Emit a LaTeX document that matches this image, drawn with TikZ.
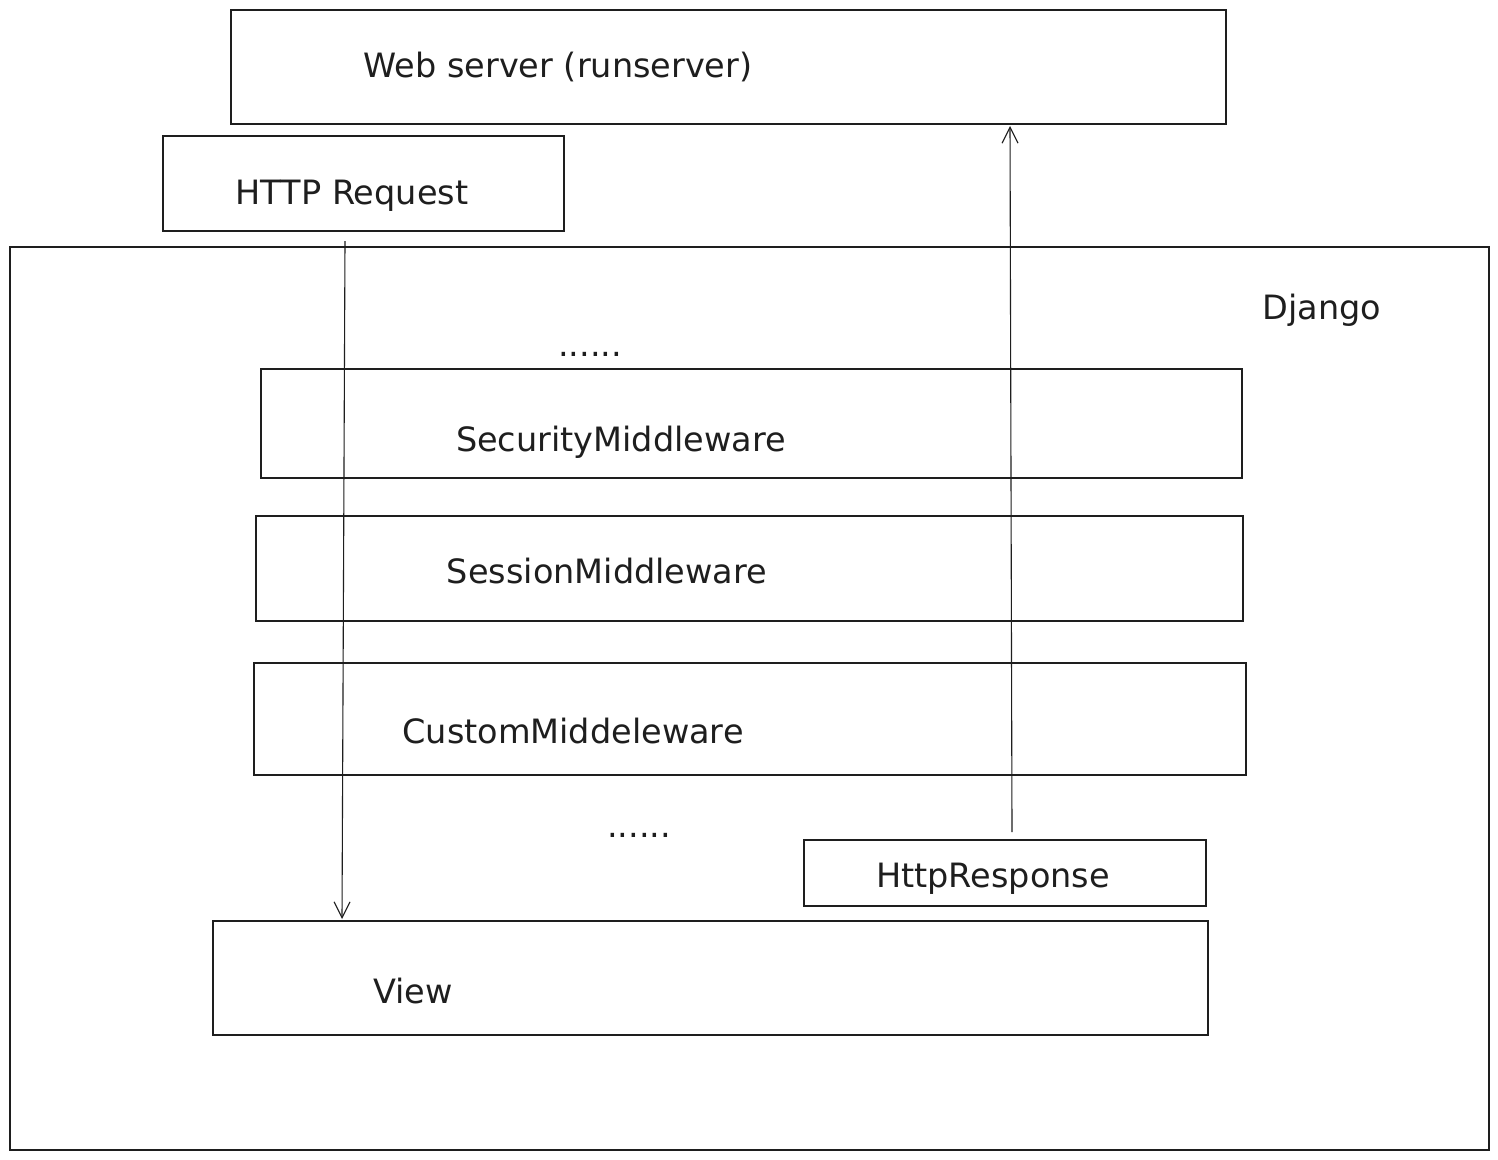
\documentclass[tikz,border=0pt]{standalone}
\usepackage{fontspec}
\setmainfont{DejaVu Sans}
\usetikzlibrary{arrows.meta}
\definecolor{ink}{HTML}{1E1E1E}
\begin{document}
\begin{tikzpicture}[x=1pt,y=-1pt,
  box/.style={draw=ink,line width=1.3pt},
  lbl/.style={text=ink,font=\fontsize{33.5}{38}\selectfont,inner sep=0pt},
  flow/.style={draw=ink,line width=1.1pt,-{Straight Barb[length=16pt,width=16pt]}}]
\useasboundingbox[fill=white] (0,0) rectangle (1498,1159);
% boxes
\draw[box] (231,10) rectangle (1226,124);
\draw[box] (163,136) rectangle (564,231);
\draw[box] (10,247) rectangle (1489,1150);
\draw[box] (261,369) rectangle (1242,478);
\draw[box] (256,516) rectangle (1243,621);
\draw[box] (254,663) rectangle (1246,775);
\draw[box] (804,840) rectangle (1206,906);
\draw[box] (213,921) rectangle (1208,1035);
% labels
\node[lbl] (web) at (558,67) {Web server (runserver)};
\node[lbl] (req) at (352,196) {HTTP Request};
\node[lbl] (dj) at (1322,310) {Django};
\node[lbl] (dots1) at (590,354) {......};
\node[lbl] (sec) at (621,442) {SecurityMiddleware};
\node[lbl] (ses) at (607,571) {SessionMiddleware};
\node[lbl] (cus) at (573,731) {CustomMiddeleware};
\node[lbl] (dots2) at (639,835) {......};
\node[lbl] (resp) at (993,879) {HttpResponse};
\node[lbl] (view) at (413,991) {View};
% connectors
\coordinate (a1) at (345,241);
\coordinate (a2) at (342,919);
\coordinate (b1) at (1012,832);
\coordinate (b2) at (1010,126);
\draw[flow] (a1) -- (a2);
\draw[flow] (b1) -- (b2);
\end{tikzpicture}
\end{document}
